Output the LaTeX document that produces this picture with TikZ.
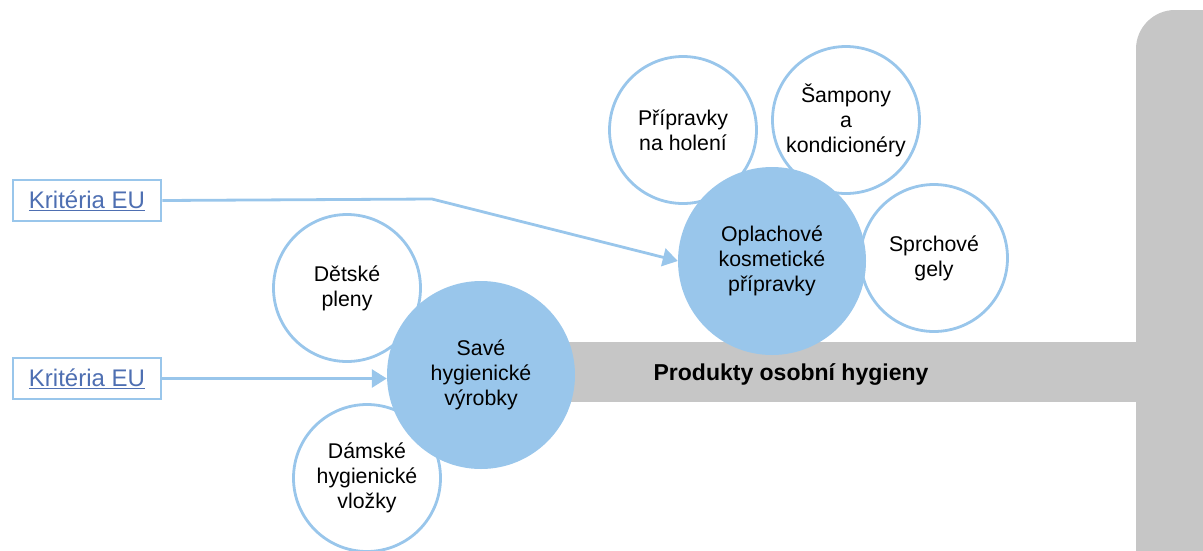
\documentclass[tikz,border=0pt]{standalone}
\usepackage{fontspec}
\setmainfont{Liberation Sans}
\usetikzlibrary{arrows.meta}
\definecolor{lb}{RGB}{153,198,235}
\definecolor{gbar}{RGB}{198,198,198}
\definecolor{linkc}{RGB}{78,111,178}
\begin{document}
\begin{tikzpicture}[x=1pt,y=-1pt,
  whitec/.style={circle,draw=lb,line width=2.8pt,fill=white,minimum size=147pt,inner sep=0pt,align=center,font=\fontsize{21.3}{25}\selectfont},
  bluec/.style={circle,fill=lb,minimum size=188pt,inner sep=0pt,align=center,font=\fontsize{21.3}{25}\selectfont},
  critbox/.style={draw=lb,line width=2.8pt,fill=white,minimum width=148pt,minimum height=41pt,inner sep=0pt,font=\fontsize{24}{28}\selectfont,text=linkc},
  conn/.style={draw=lb,line width=2.8pt,-{Triangle[length=15pt,width=18pt]}}]
\useasboundingbox (0,0) rectangle (1203,550);
\clip (0,0) rectangle (1203,550);
% gray bars
\fill[gbar,rounded corners=39pt] (1136,10) rectangle (1280,600);
\fill[gbar] (520,342) rectangle (1140,402);
\node[font=\fontsize{23}{27}\selectfont\bfseries] (prod) at (791,374) {Produkty osobní hygieny};
% white circles
\node[whitec] (pleny) at (347,288) {Dětské\\pleny};
\node[whitec] (vlozky) at (367,478) {Dámské\\hygienické\\vložky};
\node[whitec] (holeni) at (683,130) {Přípravky\\na holení};
\node[whitec] (sampony) at (846,120) {Šampony\\a\\kondicionéry};
\node[whitec] (gely) at (934,258) {Sprchové\\gely};
% blue circles
\node[bluec] (save) at (481,375) {Savé\\hygienické\\výrobky};
\node[bluec] (oplach) at (772,261) {Oplachové\\kosmetické\\přípravky};
% criteria boxes
\node[critbox] (k1) at (87,200.5) {\underline{Kritéria EU}};
\node[critbox] (k2) at (87,378.5) {\underline{Kritéria EU}};
\coordinate (bend) at (432,199);
\draw[conn] (k1.east) -- (bend) -- (oplach.west);
\draw[conn] (k2.east) -- (save.west |- k2.east);
\end{tikzpicture}
\end{document}
